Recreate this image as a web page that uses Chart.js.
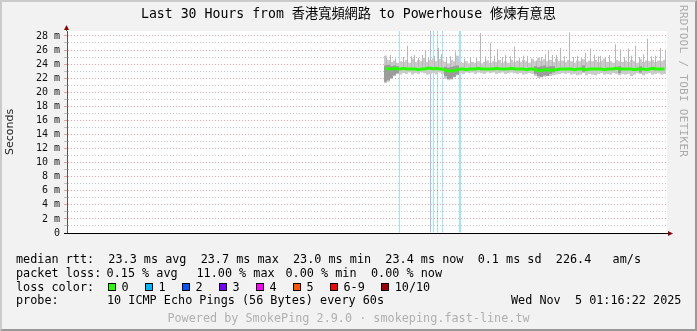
<!DOCTYPE html>
<html>
<head>
<meta charset="utf-8">
<script src="https://cdn.jsdelivr.net/npm/chart.js@4.4.1/dist/chart.umd.min.js"></script>
<style>
  html, body { margin: 0; padding: 0; background: #f2f2f2; }
  #frame { position: relative; width: 697px; height: 331px; background: #f2f2f2; overflow: hidden;
    font-family: "DejaVu Sans Mono", "Noto Sans CJK TC", monospace; color: #000; }
  #frame canvas { position: absolute; left: 0; top: 0; }
  .t { position: absolute; white-space: pre; font-size: 11.8px; line-height: 14px; }
  .sq { position: absolute; width: 8px; height: 8px; box-sizing: border-box; border: 1px solid #000; }
  #title { position: absolute; left: 0; width: 697px; top: 6px; text-align: center; font-size: 13.2px; line-height: 16px; white-space: pre; }
  #side { position: absolute; left: 677px; top: 5px; writing-mode: vertical-rl; font-size: 11px; line-height: 12px; letter-spacing: .3px; color: #aaa; }
  #powered { left: 0; width: 697px; text-align: center; color: #b0b0b0; }
  #shade { position: absolute; left: 0; top: 0; right: 0; bottom: 0; border-style: solid; border-width: 2px;
    border-color: #cbcbcb #999 #999 #cbcbcb; pointer-events: none; }
</style>
</head>
<body>
<div id="frame">
  <canvas id="chart" width="697" height="331"></canvas>
  <div id="title">Last 30 Hours from 香港寬頻網路 to Powerhouse 修煉有意思</div>
  <div id="side">RRDTOOL / TOBI OETIKER</div>
  <div class="t" style="left:16px;top:252px">median rtt:  23.3 ms avg  23.7 ms max  23.0 ms min  23.4 ms now  0.1 ms sd  226.4   am/s</div>
  <div class="t" style="left:16px;top:266px">packet loss:</div>
  <div class="t" style="left:106.6px;top:266px">0.15 % avg</div>
  <div class="t" style="left:196.5px;top:266px">11.00 % max</div>
  <div class="t" style="left:285.5px;top:266px">0.00 % min</div>
  <div class="t" style="left:371px;top:266px">0.00 % now</div>
  <div class="t" style="left:16px;top:280px">loss color:</div>
  <div id="lossRow"></div>
  <div class="t" style="left:16px;top:293px">probe:</div>
  <div class="t" style="left:107px;top:293px">10 ICMP Echo Pings (56 Bytes) every 60s</div>
  <div class="t" style="left:511px;top:293px">Wed Nov  5 01:16:22 2025</div>
  <div class="t" id="powered" style="top:310.5px">Powered by SmokePing 2.9.0 · smokeping.fast-line.tw</div>
  <div id="shade"></div>
</div>
<script>
// time axis is in minutes after Tue 00:00
const xMin = -279, xMax = 1521
const yMax = 28.7
const xLabelValues = [0, 720, 1440]
const xLabelTexts = ["Tue 00:00", "Tue 12:00", "Wed 00:00"]

// smoke buckets, 9 minutes each, first one centred at 11:16:30
const sampleStart = 676.5
const sampleStep = 9
const medianRtt = [
  23.4,23.3,23.3,23.4,23.3, 23.3,23.4,23.3,23.3,23.3, 23.3,23.2,23.3,23.3,23.4,
  23.4,23.3,23.4,23.3,23.3, 23.1,23.0,23.0,23.1,23.2, 23.3,23.3,23.2,23.3,23.3,
  23.3,23.4,23.3,23.3,23.3, 23.3,23.3,23.4,23.3,23.3, 23.3,23.3,23.4,23.3,23.3,
  23.3,23.3,23.2,23.3,23.3, 23.2,23.1,23.1,23.2,23.2, 23.1,23.2,23.2,23.3,23.3,
  23.3,23.3,23.3,23.2,23.3, 23.3,23.3,23.2,23.3,23.3, 23.3,23.3,23.3,23.2,23.3,
  23.3,23.3,23.4,23.3,23.3, 23.3,23.3,23.3,23.2,23.3, 23.3,23.3,23.2,23.3,23.4,
  23.3,23.3,23.3,23.3
]
const smokeHigh = [
  25.2,24.6,24.3,24.5,24.2, 24.4,24.3,24.6,24.2,24.8, 24.3,24.6,24.4,24.9,24.3,
  24.6,24.8,24.4,24.7,24.5, 24.3,24.1,24.6,24.4,25.2, 24.3,24.2,24.4,24.1,24.3,
  24.2,24.4,24.1,24.3,24.5, 24.2,24.4,24.3,24.6,24.2, 24.4,24.2,24.6,24.3,24.5,
  24.3,24.6,24.4,24.2,24.7, 24.4,24.9,24.5,24.7,24.4, 24.6,24.3,24.8,24.4,24.5,
  24.3,24.6,24.4,24.2,24.5, 24.4,24.7,24.3,24.5,24.4, 24.6,24.3,24.5,24.8,24.3,
  24.4,24.2,24.6,24.4,24.3, 24.5,24.3,24.6,24.4,24.2, 24.7,24.3,24.5,24.4,24.6,
  24.3,24.5,24.4,24.6
]
const smokeLow = [
  21.3,21.5,21.9,22.3,22.6, 22.5,22.7,22.6,22.8,22.5, 22.7,22.6,22.8,22.7,22.5,
  22.6,22.7,22.5,22.8,22.6, 21.9,21.7,21.8,22.1,22.4, 22.7,22.6,22.8,22.7,22.8,
  22.6,22.8,22.7,22.6,22.8, 22.7,22.8,22.6,22.7,22.8, 22.6,22.7,22.8,22.7,22.6,
  22.7,22.5,22.6,22.7,22.6, 22.3,22.0,22.1,22.2,22.4, 22.3,22.4,22.5,22.6,22.7,
  22.6,22.7,22.5,22.6,22.4, 22.5,22.7,22.4,22.6,22.5, 22.4,22.6,22.7,22.5,22.6,
  22.5,22.7,22.6,22.4,22.6, 22.5,22.6,22.3,22.5,22.7, 22.6,22.4,22.6,22.7,22.5,
  22.6,22.7,22.5,22.6
]

// darker smoke patches
const coreTimes = [676.5,685.5,694.5,703.5,712.5, 856.5,865.5,874.5,883.5,892.5,
  1126.5,1135.5,1144.5,1153.5,1162.5,1171.5,1180.5, 1270.5,1378.5,1441.5]
const coreLow = [21.5,21.7,22.0,22.4,22.7, 22.3,21.9,21.9,22.2,22.5,
  22.6,22.3,22.2,22.4,22.3,22.6,22.8, 22.9,22.7,22.8]
const coreHigh = [23.8,23.9,23.7,23.8,23.7, 23.6,23.5,23.6,23.7,23.8,
  23.7,23.6,23.7,23.8,23.6,23.7,23.7, 23.8,23.7,23.7]

// single slow pings sticking out of the smoke
const spikeTimes = [679.5,691.5,706.5,730.5,742.5,754.5,763.5,775.5,787.5,796.5,805.5,823.5,835.5,844.5,
  859.5,871.5,886.5,913.5,931.5,949.5,961.5,976.5,991.5,1003.5,1012.5,1027.5,1036.5,1051.5,1063.5,
  1078.5,1090.5,1102.5,1114.5,1129.5,1144.5,1156.5,1165.5,1177.5,1189.5,1201.5,1213.5,1228.5,1240.5,
  1252.5,1264.5,1276.5,1291.5,1303.5,1315.5,1321.5,1336.5,1348.5,1366.5,1381.5,1393.5,1405.5,1414.5,
  1426.5,1438.5,1450.5,1462.5,1474.5,1486.5,1501.5,1516.5]
const spikeTops = [24.9,25.3,24.8,25.0,26.6,25.1,25.3,24.9,25.3,25.9,25.0,25.2,26.3,25.4,
  24.9,25.1,25.8,24.8,25.0,24.9,28.4,25.1,27.0,25.2,26.1,25.0,25.3,25.1,26.5,
  24.9,25.2,25.2,24.8,24.5,25.0,25.4,26.0,25.3,25.3,26.3,25.1,28.5,25.0,
  25.2,24.9,25.6,26.2,25.3,25.1,25.2,24.9,25.3,26.8,26.1,25.0,26.2,25.2,
  26.6,25.0,25.4,27.6,25.1,25.2,26.3,25.9]
const spikeBase = 23.5

// packet loss events and their loss-count colour
const lossTimes = [718.5, 811.5, 820.5, 832.5, 847.5, 898.5, 901.5]
const lossLevel = [1, 2, 1, 1, 1, 1, 1]
const lossLabels = ["0", "1", "2", "3", "4", "5", "6-9", "10/10"]
const lossColors = ["#26ff00", "#00b8ff", "#0055ff", "#7700ff", "#ff00ff", "#ff5500", "#ff0000", "#a00000"]

function fade(hex, a) {
  const n = parseInt(hex.slice(1), 16)
  return `rgba(${n >> 16},${(n >> 8) & 255},${n & 255},${a})`
}

// legend swatches, each entry is "box label  " in the mono grid
const row = document.getElementById("lossRow")
let left = 108
lossLabels.forEach((lab, k) => {
  const sq = document.createElement("div")
  sq.className = "sq"
  sq.style.left = left + "px"
  sq.style.top = "283px"
  sq.style.background = lossColors[k]
  row.appendChild(sq)
  const tx = document.createElement("div")
  tx.className = "t"
  tx.style.left = (left + 13.5) + "px"
  tx.style.top = "280px"
  tx.textContent = lab
  row.appendChild(tx)
  left += 37 + (lab.length - 1) * 7.1
})

const sampleTimes = medianRtt.map((_, i) => sampleStart + i * sampleStep)

const plotDecor = {
  id: "plotDecor",
  beforeDraw(chart) {
    const { ctx, chartArea: a } = chart
    ctx.save()
    ctx.fillStyle = "#ffffff"
    ctx.fillRect(a.left, a.top, a.right - a.left, a.bottom - a.top)
    ctx.restore()
  },
  afterDraw(chart) {
    const { ctx, chartArea: a } = chart
    ctx.save()
    ctx.fillStyle = "#8b0000"
    // y arrow
    ctx.strokeStyle = "#555"
    ctx.beginPath(); ctx.moveTo(a.left - 0.5, a.top); ctx.lineTo(a.left - 0.5, a.top - 2); ctx.stroke()
    ctx.beginPath()
    ctx.moveTo(a.left - 0.5, a.top - 6); ctx.lineTo(a.left - 3, a.top - 1); ctx.lineTo(a.left + 2, a.top - 1)
    ctx.closePath(); ctx.fill()
    // x arrow
    ctx.strokeStyle = "#000"
    ctx.beginPath(); ctx.moveTo(a.left - 3, a.bottom + 0.5); ctx.lineTo(a.right + 2, a.bottom + 0.5); ctx.stroke()
    ctx.beginPath()
    ctx.moveTo(a.right + 6, a.bottom + 0.5); ctx.lineTo(a.right + 1, a.bottom - 2); ctx.lineTo(a.right + 1, a.bottom + 3)
    ctx.closePath(); ctx.fill()
    ctx.restore()
  }
}

const barBase = { type: "bar", borderWidth: 0, inflateAmount: 0, grouped: false }

new Chart(document.getElementById("chart"), {
  type: "bar",
  data: {
    datasets: [
      {
        ...barBase, order: 5, barThickness: 1,
        data: lossTimes.map((t) => ({ x: t, y: [0, yMax] })),
        backgroundColor: lossLevel.map((l) => fade(lossColors[l], 0.38))
      },
      {
        ...barBase, order: 4, barThickness: 3, backgroundColor: "#cacaca",
        data: sampleTimes.map((t, i) => ({ x: t, y: [smokeLow[i], smokeHigh[i]] }))
      },
      {
        ...barBase, order: 3, barThickness: 1, backgroundColor: "#b8b8b8",
        data: spikeTimes.map((t, i) => ({ x: t, y: [spikeBase, spikeTops[i]] }))
      },
      {
        ...barBase, order: 2, barThickness: 3, backgroundColor: "#9c9c9c",
        data: coreTimes.map((t, i) => ({ x: t, y: [coreLow[i], coreHigh[i]] }))
      },
      {
        type: "line", order: 1,
        data: sampleTimes.map((t, i) => ({ x: t, y: medianRtt[i] })),
        borderColor: lossColors[0], borderWidth: 3, pointRadius: 0, tension: 0
      }
    ]
  },
  options: {
    responsive: false,
    animation: false,
    devicePixelRatio: 1,
    layout: { padding: { left: 0, top: 31, right: 30, bottom: 78 } },
    plugins: { legend: { display: false }, tooltip: { enabled: false } },
    scales: {
      x: {
        type: "linear", min: xMin, max: xMax, offset: false,
        afterBuildTicks: (s) => { s.ticks = s.ticks.filter((t) => t.value % 60 === 0) },
        afterFit: (s) => { s.height = 20 },
        ticks: {
          stepSize: 60, includeBounds: false, autoSkip: false, maxRotation: 0, padding: 2, color: "#111",
          font: { family: "DejaVu Sans Mono", size: 10 },
          callback: (v) => { const k = xLabelValues.indexOf(v); return k < 0 ? "" : xLabelTexts[k] }
        },
        grid: {
          tickLength: 3,
          color: (c) => (c.tick && c.tick.value % 360 === 0 ? "rgba(235,70,70,0.5)" : "rgba(130,130,130,0.45)")
        },
        border: { color: "#000", width: 1, dash: [1, 2] }
      },
      y: {
        min: 0, max: yMax,
        afterBuildTicks: (s) => { s.ticks = s.ticks.filter((t) => Number.isInteger(t.value)) },
        afterFit: (s) => { s.width = 67 },
        ticks: {
          stepSize: 1, includeBounds: false, autoSkip: false, padding: 4, color: "#111",
          font: { family: "DejaVu Sans Mono", size: 10 },
          callback: (v) => (v % 2 !== 0 ? "" : v === 0 ? "0" : v + " m")
        },
        grid: {
          tickLength: 3,
          color: (c) => (c.tick && c.tick.value % 2 === 0 ? "rgba(235,70,70,0.5)" : "rgba(130,130,130,0.45)")
        },
        border: { color: "#555", width: 1, dash: [1, 2] },
        title: {
          display: true, text: "Seconds", color: "#222",
          font: { family: "DejaVu Sans", size: 11 }, padding: { top: 4, bottom: 0 }
        }
      }
    }
  },
  plugins: [plotDecor]
})
</script>
</body>
</html>
